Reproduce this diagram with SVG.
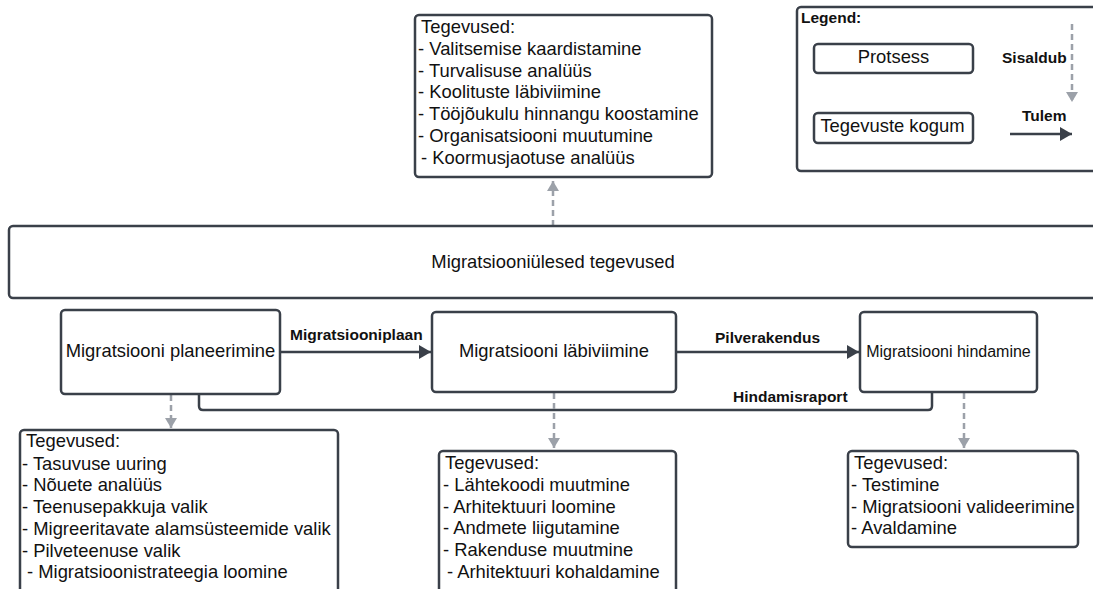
<svg xmlns="http://www.w3.org/2000/svg" width="1093" height="589" viewBox="0 0 1093 589">
  <style>
    .box { fill: #ffffff; stroke: #3a4049; stroke-width: 2.5; }
    .txt { font-family: "Liberation Sans", Arial, sans-serif; font-size: 18.4px; fill: #111111; }
    .lbl { font-family: "Liberation Sans", Arial, sans-serif; font-size: 15.5px; font-weight: bold; fill: #111111; }
    .flow { fill: none; stroke: #3a4049; stroke-width: 2.5; }
    .incl { fill: none; stroke: #9ca1a9; stroke-width: 2.5; stroke-dasharray: 6 4; }
  </style>
  <defs>
    <marker id="solidHead" markerWidth="12" markerHeight="14" refX="12" refY="7" orient="auto" markerUnits="userSpaceOnUse">
      <path d="M0,0 L12,7 L0,14 Z" fill="#3a4049"/>
    </marker>
    <marker id="grayHead" markerWidth="10" markerHeight="12" refX="10" refY="6" orient="auto" markerUnits="userSpaceOnUse">
      <path d="M0,0 L10,6 L0,12 Z" fill="#9ca1a9"/>
    </marker>
  </defs>

  <rect width="1093" height="589" fill="#ffffff"/>

  <!-- connectors -->
  <g id="connectors">
    <path class="flow" d="M280,352 L431,352" marker-end="url(#solidHead)"/>
    <text class="lbl" x="290" y="340">Migratsiooniplaan</text>
    <path class="flow" d="M676,352 L859,352" marker-end="url(#solidHead)"/>
    <text class="lbl" x="715" y="343">Pilverakendus</text>
    <path class="flow" d="M932,392 L932,406 Q932,410 928,410 L203,410 Q199,410 199,406 L199,394"/>
    <text class="lbl" x="733" y="402">Hindamisraport</text>
    <path class="incl" d="M553,226 L553,181" marker-end="url(#grayHead)"/>
    <path class="incl" d="M171,395 L171,428" marker-end="url(#grayHead)"/>
    <path class="incl" d="M554,393 L554,448" marker-end="url(#grayHead)"/>
    <path class="incl" d="M964,393 L964,448" marker-end="url(#grayHead)"/>
  </g>

  <!-- cross-cutting activities -->
  <g id="toetegevused">
    <rect class="box" x="415" y="15" width="297" height="162" rx="4"/>
    <text class="txt" x="421" y="33">Tegevused:</text>
    <text class="txt" x="418" y="55">- Valitsemise kaardistamine</text>
    <text class="txt" x="418" y="77">- Turvalisuse analüüs</text>
    <text class="txt" x="418" y="98">- Koolituste läbiviimine</text>
    <text class="txt" x="418" y="120">- Tööjõukulu hinnangu koostamine</text>
    <text class="txt" x="418" y="142">- Organisatsiooni muutumine</text>
    <text class="txt" x="421" y="164">- Koormusjaotuse analüüs</text>
  </g>

  <!-- legend -->
  <g id="legend">
    <rect class="box" x="797" y="7" width="310" height="164" rx="4"/>
    <text class="lbl" x="801" y="23">Legend:</text>
    <rect class="box" x="814" y="44" width="159" height="29" rx="4"/>
    <text class="txt" x="893.5" y="63" text-anchor="middle">Protsess</text>
    <rect class="box" x="814" y="113" width="159" height="30" rx="4"/>
    <text class="txt" x="892.5" y="132" text-anchor="middle">Tegevuste kogum</text>
    <text class="lbl" x="1002" y="63">Sisaldub</text>
    <path class="incl" d="M1072,24 L1072,102" marker-end="url(#grayHead)"/>
    <text class="lbl" x="1022" y="121">Tulem</text>
    <path class="flow" d="M1010,134 L1072,134" marker-end="url(#solidHead)"/>
  </g>

  <!-- overarching activities band -->
  <g id="yletegevused">
    <rect class="box" x="9" y="226" width="1100" height="72" rx="4"/>
    <text class="txt" x="553" y="268" text-anchor="middle">Migratsiooniülesed tegevused</text>
  </g>

  <!-- planning -->
  <g id="planeerimine">
    <rect class="box" x="61" y="310" width="219" height="84" rx="4"/>
    <text class="txt" x="170.5" y="357" text-anchor="middle">Migratsiooni planeerimine</text>
  </g>

  <!-- execution -->
  <g id="labiviimine">
    <rect class="box" x="432" y="312" width="244" height="80" rx="4"/>
    <text class="txt" x="554" y="357" text-anchor="middle">Migratsiooni läbiviimine</text>
  </g>

  <!-- evaluation -->
  <g id="hindamine">
    <rect class="box" x="860" y="312" width="177" height="80" rx="4"/>
    <text class="txt" x="948.5" y="357" text-anchor="middle" style="font-size:16px">Migratsiooni hindamine</text>
  </g>

  <!-- planning activities -->
  <g id="planeerimine-tegevused">
    <rect class="box" x="20" y="430" width="318" height="175" rx="4"/>
    <text class="txt" x="26" y="447">Tegevused:</text>
    <text class="txt" x="22" y="470">- Tasuvuse uuring</text>
    <text class="txt" x="22" y="491">- Nõuete analüüs</text>
    <text class="txt" x="22" y="513">- Teenusepakkuja valik</text>
    <text class="txt" x="22" y="535">- Migreeritavate alamsüsteemide valik</text>
    <text class="txt" x="22" y="557">- Pilveteenuse valik</text>
    <text class="txt" x="27" y="578">- Migratsioonistrateegia loomine</text>
  </g>

  <!-- execution activities -->
  <g id="labiviimine-tegevused">
    <rect class="box" x="439" y="451" width="237" height="155" rx="4"/>
    <text class="txt" x="445" y="469">Tegevused:</text>
    <text class="txt" x="443" y="491">- Lähtekoodi muutmine</text>
    <text class="txt" x="443" y="513">- Arhitektuuri loomine</text>
    <text class="txt" x="443" y="534">- Andmete liigutamine</text>
    <text class="txt" x="443" y="556">- Rakenduse muutmine</text>
    <text class="txt" x="447" y="578">- Arhitektuuri kohaldamine</text>
  </g>

  <!-- evaluation activities -->
  <g id="hindamine-tegevused">
    <rect class="box" x="848" y="451" width="230" height="96" rx="4"/>
    <text class="txt" x="854" y="469">Tegevused:</text>
    <text class="txt" x="851" y="491">- Testimine</text>
    <text class="txt" x="851" y="513">- Migratsiooni valideerimine</text>
    <text class="txt" x="851" y="534">- Avaldamine</text>
  </g>
</svg>
